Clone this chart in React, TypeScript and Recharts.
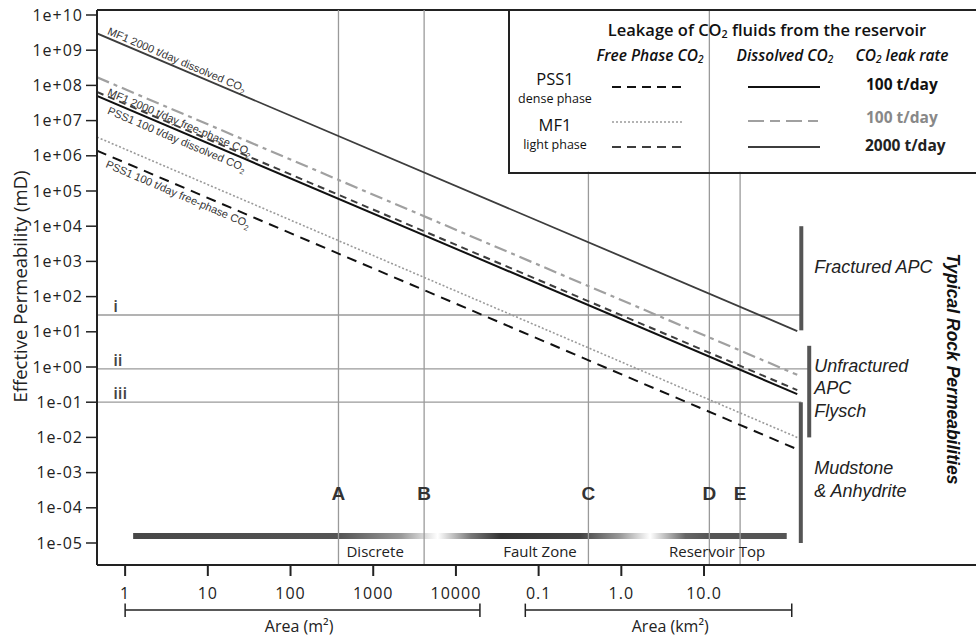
import React from "react";
import {
  LineChart,
  Line,
  XAxis,
  YAxis,
  ReferenceLine,
  ReferenceDot,
  ReferenceArea,
} from "recharts";

// area (m2) at the two ends of every permeability line
const areaM2 = [0.457, 1.34e8];
const mf1Dissolved2000 = [3.0e9, 10.5];
const mf1Dissolved100 = [1.7e8, 0.6];
const mf1Free2000 = [6.5e7, 0.22];
const pss1Dissolved100 = [5.0e7, 0.17];
const mf1Free100 = [3.4e6, 0.01];
const pss1Free100 = [1.4e6, 0.0046];

const xTicks = [1, 10, 100, 1000, 10000, 1e5, 1e6, 1e7];
const xTickLabels = ["1", "10", "100", "1000", "10000", "0.1", "1.0", "10.0"];
const yTicks = [1e-5, 1e-4, 1e-3, 1e-2, 1e-1, 1, 10, 1e2, 1e3, 1e4, 1e5, 1e6, 1e7, 1e8, 1e9, 1e10];

const siteNames = ["A", "B", "C", "D", "E"];
const siteAreas = [380, 4125, 4.0e5, 1.16e7, 2.73e7];

const thresholdNames = ["i", "ii", "iii"];
const thresholdValues = [30, 0.88, 0.1];
const thresholdEnds = [1.5e8, 1.87e8, 1.5e8];

const rockNames = [["Fractured APC"], ["Unfractured", "APC", "Flysch"], ["Mudstone", "& Anhydrite"]];
const rockBarAreas = [1.5e8, 1.87e8, 1.48e8];
const rockRanges = [[11, 1e4], [1e-2, 4], [1e-5, 0.1]];
const rockLabelY = [690, 1.07, 1.35e-3];

const zoneNames = ["Discrete", "Fault Zone", "Reservoir Top"];
const zoneAreas = [1055, 1.04e5, 1.44e7];

const lineLabels = [
  { text: "MF1 2000 t/day dissolved CO", area: 0.6, k: 2.9e9 },
  { text: "MF1 2000 t/day free-phase CO", area: 0.6, k: 5.3e7 },
  { text: "PSS1 100 t/day dissolved CO", area: 0.6, k: 1.6e7 },
  { text: "PSS1 100 t/day free-phase CO", area: 0.57, k: 4.8e5 },
];

const X_MIN = 0.457;
const X_MAX = 2.87e10;
const Y_MIN = Math.pow(10, -5.625);
const Y_MAX = Math.pow(10, 10.142);
const SLOPE_DEG = 23.06;

const data = areaM2.map((area, i) => ({
  area,
  mf1Dissolved2000: mf1Dissolved2000[i],
  mf1Dissolved100: mf1Dissolved100[i],
  mf1Free2000: mf1Free2000[i],
  pss1Dissolved100: pss1Dissolved100[i],
  mf1Free100: mf1Free100[i],
  pss1Free100: pss1Free100[i],
}));

const fmtY = (v: number) => {
  const e = Math.round(Math.log10(v));
  return `1e${e >= 0 ? "+" : "-"}${String(Math.abs(e)).padStart(2, "0")}`;
};

const at = (draw: (x: number, y: number) => React.ReactNode) => (props: any) => {
  const vb = props.viewBox || {};
  return <g>{draw(vb.x, vb.y)}</g>;
};

const Sub = () => <sub style={{ fontSize: "0.65em", verticalAlign: "-0.25em" }}>2</sub>;

const Sample = ({ dash, color, width }: { dash?: string; color: string; width: number }) => (
  <svg width={72} height={6} style={{ display: "block" }}>
    <line x1={0} y1={3} x2={72} y2={3} stroke={color} strokeWidth={width} strokeDasharray={dash} />
  </svg>
);

const Pos = ({ x, y, left, children, style }: any) => (
  <div
    style={{
      position: "absolute",
      left: x - 510,
      top: y - 12,
      transform: left ? "translate(0,-50%)" : "translate(-50%,-50%)",
      whiteSpace: "nowrap",
      lineHeight: 1,
      ...style,
    }}
  >
    {children}
  </div>
);

const LegendBox = () => (
  <div
    style={{
      position: "absolute",
      left: 508,
      top: 9,
      width: 500,
      height: 161,
      border: "2px solid #222",
      fontFamily: "Open Sans",
      color: "#111",
    }}
  >
    <Pos x={767} y={32} style={{ fontSize: 16.5, fontWeight: 600 }}>
      Leakage of CO<Sub /> fluids from the reservoir
    </Pos>
    <Pos x={650} y={57} style={{ fontSize: 15.5, fontStyle: "italic", fontWeight: 600 }}>
      Free Phase CO<Sub />
    </Pos>
    <Pos x={785} y={57} style={{ fontSize: 15.5, fontStyle: "italic", fontWeight: 600 }}>
      Dissolved CO<Sub />
    </Pos>
    <Pos x={902} y={57} style={{ fontSize: 15.5, fontStyle: "italic", fontWeight: 600 }}>
      CO<Sub /> leak rate
    </Pos>
    <Pos x={555} y={80} style={{ fontSize: 16.5 }}>PSS1</Pos>
    <Pos x={555} y={99.5} style={{ fontSize: 12.5 }}>dense phase</Pos>
    <Pos x={555} y={126} style={{ fontSize: 16.5 }}>MF1</Pos>
    <Pos x={555} y={145.5} style={{ fontSize: 12.5 }}>light phase</Pos>
    <Pos x={612} y={88} left><Sample color="#111" width={2} dash="9 6" /></Pos>
    <Pos x={612} y={123} left><Sample color="#9a9a9a" width={1.5} dash="2 2" /></Pos>
    <Pos x={612} y={148} left><Sample color="#3d3d3d" width={2} dash="9 6" /></Pos>
    <Pos x={748} y={88} left><Sample color="#111" width={2} /></Pos>
    <Pos x={748} y={122} left><Sample color="#a0a0a0" width={2.2} dash="16 6 10 6" /></Pos>
    <Pos x={748} y={148} left><Sample color="#3d3d3d" width={1.8} /></Pos>
    <Pos x={866} y={86} left style={{ fontSize: 15.5, fontWeight: 700 }}>100 t/day</Pos>
    <Pos x={866} y={119} left style={{ fontSize: 15.5, fontWeight: 700, color: "#888" }}>100 t/day</Pos>
    <Pos x={865} y={147} left style={{ fontSize: 15.5, fontWeight: 700, color: "#222" }}>2000 t/day</Pos>
  </div>
);

export default function App() {
  return (
    <div
      style={{
        position: "absolute",
        left: 0,
        top: 0,
        width: 976,
        height: 637,
        overflow: "hidden",
        background: "#fff",
        fontFamily: "Open Sans",
      }}
    >
      <style>{".recharts-cartesian-axis-tick-value{letter-spacing:1px}"}</style>
      <LineChart width={990} height={637} data={data} margin={{ top: 10, right: 0, bottom: 0, left: 0 }}>
        <defs>
          <linearGradient id="zoneGrad" x1="0" y1="0" x2="1" y2="0">
            <stop offset="0" stopColor="#474747" />
            <stop offset="0.316" stopColor="#555" />
            <stop offset="0.41" stopColor="#999" />
            <stop offset="0.466" stopColor="#fff" />
            <stop offset="0.517" stopColor="#777" />
            <stop offset="0.5625" stopColor="#333" />
            <stop offset="0.684" stopColor="#444" />
            <stop offset="0.745" stopColor="#999" />
            <stop offset="0.791" stopColor="#fff" />
            <stop offset="0.845" stopColor="#666" />
            <stop offset="0.883" stopColor="#555" />
            <stop offset="1" stopColor="#555" />
          </linearGradient>
        </defs>
        <XAxis
          dataKey="area"
          type="number"
          scale="log"
          domain={[X_MIN, X_MAX]}
          allowDataOverflow
          ticks={xTicks}
          interval={0}
          tickFormatter={(v: number) => xTickLabels[xTicks.indexOf(v)]}
          height={72}
          tickSize={11}
          tickMargin={12}
          axisLine={{ stroke: "#222", strokeWidth: 2 }}
          tickLine={{ stroke: "#222", strokeWidth: 2 }}
          tick={{ fontSize: 16, fill: "#222", fontFamily: "Open Sans" }}
        />
        <YAxis
          type="number"
          scale="log"
          domain={[Y_MIN, Y_MAX]}
          allowDataOverflow
          ticks={yTicks}
          interval={0}
          tickFormatter={fmtY}
          width={97}
          tickSize={11}
          tickMargin={3}
          axisLine={{ stroke: "#222", strokeWidth: 2 }}
          tickLine={{ stroke: "#222", strokeWidth: 1.5 }}
          tick={{ fontSize: 16, fill: "#222", fontFamily: "Open Sans" }}
          label={(p: any) => {
            const vb = p.viewBox || {};
            const cy = vb.y + vb.height / 2 - 1;
            return (
              <text
                x={19}
                y={cy}
                transform={`rotate(-90 19 ${cy})`}
                textAnchor="middle"
                dominantBaseline="central"
                fontSize={18.5}
                fill="#222"
                fontFamily="Open Sans"
              >
                Effective Permeability (mD)
              </text>
            );
          }}
        />

        {/* frame top */}
        <ReferenceLine y={Y_MAX} stroke="#222" strokeWidth={2} ifOverflow="visible" />

        {/* A-E vertical lines; C and E stop under the legend */}
        {siteAreas.map((a, i) => (
          <ReferenceLine
            key={siteNames[i]}
            segment={[
              { x: a, y: Y_MIN },
              { x: a, y: siteNames[i] === "C" || siteNames[i] === "E" ? 3.5e5 : Y_MAX },
            ]}
            stroke="#9a9a9a"
            strokeWidth={1.3}
            ifOverflow="visible"
          />
        ))}

        {/* i, ii, iii */}
        {thresholdValues.map((v, i) => (
          <ReferenceLine
            key={thresholdNames[i]}
            segment={[
              { x: X_MIN, y: v },
              { x: thresholdEnds[i], y: v },
            ]}
            stroke="#9a9a9a"
            strokeWidth={1.3}
            ifOverflow="visible"
          />
        ))}
        {thresholdValues.map((v, i) => (
          <ReferenceDot
            key={"t" + i}
            x={0.716}
            y={v}
            r={0}
            ifOverflow="visible"
            label={at((x, y) => (
              <text x={x} y={y - 3} fontSize={17} fontWeight={600} fill="#444" fontFamily="Open Sans">
                {thresholdNames[i]}
              </text>
            ))}
          />
        ))}

        <ReferenceArea
          x1={1.25}
          x2={1.0e8}
          y1={Math.pow(10, -4.886)}
          y2={Math.pow(10, -4.716)}
          fill="url(#zoneGrad)"
          fillOpacity={1}
          stroke="none"
          ifOverflow="visible"
        />

        <Line dataKey="pss1Free100" stroke="#111" strokeWidth={2} strokeDasharray="10 7" dot={false} isAnimationActive={false} />
        <Line dataKey="mf1Free100" stroke="#9a9a9a" strokeWidth={1.6} strokeDasharray="2 2" dot={false} isAnimationActive={false} />
        <Line dataKey="pss1Dissolved100" stroke="#111" strokeWidth={2} dot={false} isAnimationActive={false} />
        <Line dataKey="mf1Free2000" stroke="#3d3d3d" strokeWidth={2} strokeDasharray="7 5" dot={false} isAnimationActive={false} />
        <Line dataKey="mf1Dissolved100" stroke="#a0a0a0" strokeWidth={2.2} strokeDasharray="13 5 4 5" dot={false} isAnimationActive={false} />
        <Line dataKey="mf1Dissolved2000" stroke="#3d3d3d" strokeWidth={1.8} dot={false} isAnimationActive={false} />

        {lineLabels.map((l, i) => (
          <ReferenceDot
            key={"l" + i}
            x={l.area}
            y={l.k}
            r={0}
            ifOverflow="visible"
            label={at((x, y) => (
              <text
                x={x}
                y={y}
                transform={`rotate(${SLOPE_DEG} ${x} ${y})`}
                fontSize={11}
                fill="#333"
                fontFamily="Liberation Sans"
              >
                {l.text}
                <tspan fontSize={7.5} dy={3}>2</tspan>
              </text>
            ))}
          />
        ))}

        {siteAreas.map((a, i) => (
          <ReferenceDot
            key={"s" + i}
            x={a}
            y={Math.pow(10, -3.58)}
            r={0}
            ifOverflow="visible"
            label={at((x, y) => (
              <text
                x={x}
                y={y}
                textAnchor="middle"
                dominantBaseline="central"
                fontSize={19}
                fontWeight={700}
                fill="#333"
                fontFamily="Liberation Sans"
              >
                {siteNames[i]}
              </text>
            ))}
          />
        ))}

        {zoneAreas.map((a, i) => (
          <ReferenceDot
            key={"z" + i}
            x={a}
            y={4e-6}
            r={0}
            ifOverflow="visible"
            label={at((x, y) => (
              <text x={x} y={y} textAnchor="middle" fontSize={15} fill="#222" fontFamily="Open Sans">
                {zoneNames[i]}
              </text>
            ))}
          />
        ))}

        {/* typical rock permeability ranges */}
        {rockRanges.map((r, i) => (
          <ReferenceLine
            key={"r" + i}
            segment={[
              { x: rockBarAreas[i], y: r[0] },
              { x: rockBarAreas[i], y: r[1] },
            ]}
            stroke="#555"
            strokeWidth={4}
            ifOverflow="visible"
          />
        ))}
        {rockNames.map((names, i) => (
          <ReferenceDot
            key={"rn" + i}
            x={2.15e8}
            y={rockLabelY[i]}
            r={0}
            ifOverflow="visible"
            label={at((x, y) => (
              <text x={x} y={y} dominantBaseline="central" fontSize={18} fontStyle="italic" fill="#222" fontFamily="Liberation Sans">
                {names.map((n, j) => (
                  <tspan key={n} x={x} dy={j === 0 ? 0 : 22.5}>
                    {n}
                  </tspan>
                ))}
              </text>
            ))}
          />
        ))}
        <ReferenceDot
          x={1.03e10}
          y={0.88}
          r={0}
          ifOverflow="visible"
          label={at((x, y) => (
            <text
              x={x}
              y={y}
              transform={`rotate(90 ${x} ${y})`}
              textAnchor="middle"
              dominantBaseline="central"
              fontSize={17.5}
              fontWeight={700}
              fontStyle="italic"
              fill="#111"
              fontFamily="Liberation Sans"
            >
              Typical Rock Permeabilities
            </text>
          ))}
        />

        {/* area scale brackets under the axis */}
        <ReferenceLine segment={[{ x: 1, y: 1.25e-7 }, { x: 19500, y: 1.25e-7 }]} stroke="#222" strokeWidth={1.5} ifOverflow="visible" />
        <ReferenceLine segment={[{ x: 1, y: 1.9e-7 }, { x: 1, y: 7.9e-8 }]} stroke="#222" strokeWidth={1.5} ifOverflow="visible" />
        <ReferenceLine segment={[{ x: 19500, y: 1.9e-7 }, { x: 19500, y: 7.9e-8 }]} stroke="#222" strokeWidth={1.5} ifOverflow="visible" />
        <ReferenceLine segment={[{ x: 6.9e4, y: 1.25e-7 }, { x: 1.15e8, y: 1.25e-7 }]} stroke="#222" strokeWidth={1.5} ifOverflow="visible" />
        <ReferenceLine segment={[{ x: 6.9e4, y: 1.9e-7 }, { x: 6.9e4, y: 7.9e-8 }]} stroke="#222" strokeWidth={1.5} ifOverflow="visible" />
        <ReferenceLine segment={[{ x: 1.15e8, y: 1.9e-7 }, { x: 1.15e8, y: 7.9e-8 }]} stroke="#222" strokeWidth={1.5} ifOverflow="visible" />
        <ReferenceDot
          x={127}
          y={Math.pow(10, -7.358)}
          r={0}
          ifOverflow="visible"
          label={at((x, y) => (
            <text x={x} y={y} textAnchor="middle" dominantBaseline="central" fontSize={16} fill="#222" fontFamily="Open Sans">
              Area (m²)
            </text>
          ))}
        />
        <ReferenceDot
          x={3.9e6}
          y={Math.pow(10, -7.358)}
          r={0}
          ifOverflow="visible"
          label={at((x, y) => (
            <text x={x} y={y} textAnchor="middle" dominantBaseline="central" fontSize={16} fill="#222" fontFamily="Open Sans">
              Area (km²)
            </text>
          ))}
        />
      </LineChart>
      <LegendBox />
    </div>
  );
}
